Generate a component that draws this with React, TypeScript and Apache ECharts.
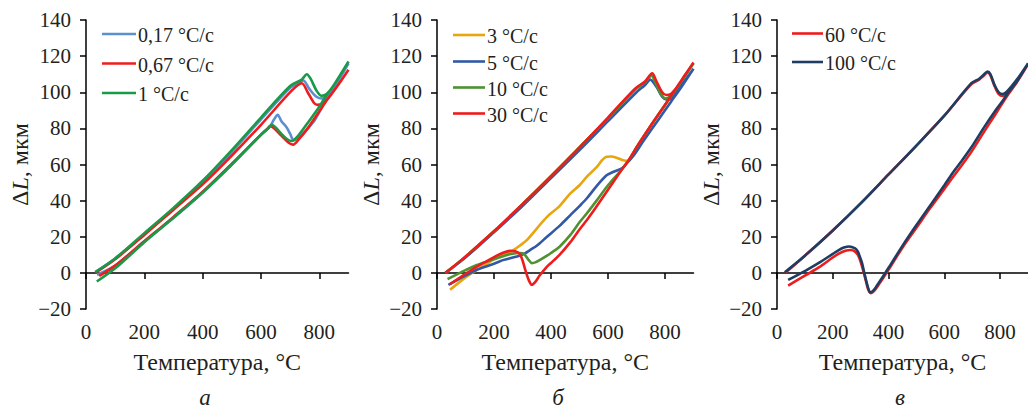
import React, { useEffect, useRef } from "react";
import * as echarts from "echarts";

type P = [number, number];

// ---------- panel а ----------
const aNames = ["0,17 °C/c", "0,67 °C/c", "1 °C/c"];
const aColors = ["#5b8fd0", "#ee1c1c", "#1a9a48"];
const aBlue: P[] = [
  [32, 0.5], [100, 8], [200, 21.5], [300, 35.5], [400, 50.5], [500, 67], [600, 85], [700, 102.5], [725, 104.5],
  [745, 106.5], [765, 102], [790, 97.5], [810, 96.5], [830, 98], [860, 105], [900, 116],
  [860, 105], [830, 98], [800, 89], [780, 83.5], [740, 76.5], [712, 73.5], [700, 77], [688, 80.5], [670, 84],
  [657, 87.5], [645, 85], [630, 81], [600, 76.5], [500, 60], [400, 44.5], [300, 30.5], [200, 17.5], [100, 4], [38, -1],
];
const aRed: P[] = [
  [32, 0], [100, 7.5], [200, 21], [300, 35], [400, 49], [500, 65], [600, 82], [706, 101], [740, 105],
  [760, 100], [780, 94.5], [793, 93], [810, 93.5], [830, 96.5], [860, 103], [900, 112.5],
  [860, 103], [830, 96.5], [800, 89.5], [760, 80], [730, 74], [710, 71], [695, 72], [670, 76], [645, 80],
  [632, 81.4], [620, 79.5], [600, 76.5], [500, 60.5], [400, 45], [300, 31], [200, 17.5], [100, 4], [45, -1.7],
];
const aGreen: P[] = [
  [32, 0.5], [100, 8], [200, 22], [300, 36], [400, 51], [500, 68], [600, 86], [700, 103.5], [740, 107],
  [757, 110], [770, 107.5], [790, 101], [808, 98], [825, 99], [850, 104], [900, 117],
  [850, 104], [825, 98.5], [800, 92], [760, 83], [725, 75.5], [705, 73], [690, 74], [670, 77], [650, 80.5],
  [638, 82], [625, 80], [600, 76.5], [500, 60], [400, 44.5], [300, 30.5], [200, 17], [100, 2.5], [37, -4.8],
];

// ---------- panel б ----------
const bNames = ["3 °C/c", "5 °C/c", "10 °C/c", "30 °C/c"];
const bColors = ["#e8a50c", "#3258a6", "#4e9231", "#ee1c1c"];
const bYellow: P[] = [
  [30, 0], [100, 9], [200, 23], [300, 38], [400, 53.5], [500, 69.5], [600, 85.5], [695, 101.5], [730, 105.5],
  [752, 109], [770, 104], [790, 98], [802, 96.5], [820, 98], [840, 102], [870, 109], [900, 116],
  [870, 109], [840, 102], [800, 93], [750, 81.5], [700, 69.5], [671, 62], [650, 62.5], [630, 63.8], [610, 64.4],
  [595, 64.3], [580, 62.5], [560, 58.5], [526, 53.3], [500, 48.5], [468, 44], [430, 37], [386, 31], [350, 24.5],
  [316, 18.3], [290, 15], [269, 12.7], [240, 10.5], [210, 8.7], [175, 5], [140, 1.7], [100, -2.5], [46, -9.4],
];
const bBlue: P[] = [
  [30, 0], [100, 8.5], [200, 22.5], [300, 37], [400, 52.5], [500, 68], [600, 84], [700, 100], [730, 104],
  [748, 107], [770, 103], [790, 97.5], [805, 96], [825, 97], [860, 104.5], [900, 113],
  [860, 103.5], [820, 94.5], [780, 85.5], [720, 72], [690, 65], [666, 60.7], [650, 58], [620, 56], [595, 54],
  [560, 48], [526, 41.3], [500, 37], [468, 32], [430, 26], [386, 20], [350, 15], [325, 12.5], [310, 10.9],
  [290, 9.5], [260, 8.2], [234, 7.2], [200, 5], [140, 1.7], [100, -1.5], [40, -6.6],
];
const bGreen: P[] = [
  [30, 0], [100, 9], [200, 23], [300, 38], [400, 53.5], [500, 69.5], [600, 85.5], [695, 101.5], [730, 105.5],
  [752, 109.5], [770, 104], [790, 98], [802, 96.5], [820, 98], [840, 102], [870, 109], [900, 116],
  [870, 109], [840, 102], [800, 93], [750, 81.5], [700, 69.5], [671, 62], [650, 57.5], [600, 48.5], [560, 40],
  [526, 33], [500, 28], [468, 21], [430, 14.5], [400, 11], [386, 9.5], [360, 7], [345, 5.8], [333, 5.4],
  [320, 7.5], [305, 10.5], [290, 11], [260, 10.5], [234, 9.4], [200, 7.5], [140, 4.4], [100, 1.5], [37, -3.5],
];
const bRed: P[] = [
  [30, 0], [100, 9], [200, 23], [300, 38], [400, 53.5], [500, 69.5], [600, 86], [695, 102], [730, 106],
  [755, 110.5], [770, 106], [790, 100], [805, 98.5], [820, 99], [840, 102.5], [870, 109.5], [900, 116.5],
  [870, 109.5], [840, 102.5], [800, 93], [750, 81.5], [700, 69.5], [671, 62], [650, 57.5], [600, 46],
  [550, 34.5], [526, 29.3], [500, 24], [468, 17], [430, 10], [400, 5.5], [386, 3.5], [360, -1.5], [345, -5],
  [333, -6.6], [322, -4], [310, 1.5], [300, 7], [290, 10.5], [275, 12], [255, 12.2], [230, 11], [210, 9.5],
  [175, 6.5], [140, 3.5], [100, -0.5], [46, -6.2],
];

// ---------- panel в ----------
const cNames = ["60 °C/c", "100 °C/c"];
const cColors = ["#ee1c1c", "#1f3d63"];
const cRed: P[] = [
  [30, 0], [100, 9.5], [200, 23.5], [300, 38.5], [400, 54.5], [500, 70.5], [600, 87], [697, 104.5], [725, 107],
  [740, 109], [755, 111], [765, 109.5], [780, 103.5], [795, 99], [810, 98], [825, 100], [860, 106.5], [900, 115.5],
  [860, 105.5], [830, 99], [800, 92], [784, 88], [740, 77.5], [697, 67], [660, 59], [633, 53.5], [600, 46.5],
  [550, 36], [500, 25], [452, 14.5], [403, 2.5], [380, -3], [356, -8.5], [345, -10.5], [336, -11.2], [328, -9.5],
  [322, -6.5], [313, -1], [305, 3.5], [297, 7.5], [290, 10], [280, 11.8], [265, 12.7], [245, 12.2], [220, 10.5],
  [200, 8.5], [150, 3], [100, -1.5], [40, -7],
];
const cNavy: P[] = [
  [28, 0.4], [100, 9.5], [200, 23.5], [300, 38.5], [400, 54.5], [500, 70.5], [600, 87], [697, 105], [725, 107.5],
  [740, 109.5], [755, 111.5], [765, 110], [780, 104], [795, 100], [808, 99], [825, 100.5], [860, 107], [900, 116],
  [860, 106], [830, 100], [808, 95], [784, 90], [740, 80], [697, 69.5], [660, 61.5], [633, 56], [600, 48.5],
  [550, 37.5], [500, 26.5], [452, 15.5], [403, 3.5], [380, -2], [356, -7.6], [345, -9.8], [334, -10.9], [328, -9],
  [322, -5.7], [313, 0], [305, 5.4], [297, 9], [290, 11.8], [280, 13.5], [259, 14.6], [240, 14], [220, 12.5],
  [200, 10.5], [150, 5.5], [100, 1], [40, -3.9],
];

const xTicks = [0, 200, 400, 600, 800];
const yTicks = [-20, 0, 20, 40, 60, 80, 100, 120, 140];
const panelLetters = ["а", "б", "в"];
const xTitle = "Температура, °C";

const FONT = "Liberation Serif";
const TXT = "#231f20";

export default function App() {
  const ref = useRef<HTMLDivElement>(null);
  useEffect(() => {
    if (!ref.current) return;
    const chart = echarts.init(ref.current, undefined, { renderer: "svg" });

    const grids = [
      { left: 86, top: 20, width: 262.5, height: 289 },
      { left: 437, top: 20, width: 256.5, height: 289 },
      { left: 777, top: 20, width: 259.5, height: 289 },
    ];

    const xAxes = grids.map((_, i) => ({
      type: "value",
      gridIndex: i,
      min: 0,
      max: 900,
      interval: 100,
      axisLine: { show: true, lineStyle: { color: "#000", width: 1.5 } },
      axisTick: { show: true, inside: false, length: 6, customValues: xTicks, lineStyle: { color: "#000", width: 1.5 } },
      axisLabel: { show: false },
      splitLine: { show: false },
    }));

    const yAxes = grids.map((_, i) => ({
      type: "value",
      gridIndex: i,
      min: -20,
      max: 140,
      interval: 20,
      axisLine: { show: true, lineStyle: { color: "#000", width: 1.5 } },
      axisTick: { show: true, inside: false, length: 6, lineStyle: { color: "#000", width: 1.5 } },
      axisLabel: { show: false },
      splitLine: { show: false },
    }));

    const mk = (name: string, color: string, data: P[], idx: number) => ({
      type: "line",
      name,
      xAxisIndex: idx,
      yAxisIndex: idx,
      data,
      symbol: "none",
      smooth: 0.3,
      lineStyle: { width: 2.6, color },
      itemStyle: { color },
    });

    const series = [
      mk(aNames[0], aColors[0], aBlue, 0),
      mk(aNames[1], aColors[1], aRed, 0),
      mk(aNames[2], aColors[2], aGreen, 0),
      mk(bNames[0], bColors[0], bYellow, 1),
      mk(bNames[1], bColors[1], bBlue, 1),
      mk(bNames[2], bColors[2], bGreen, 1),
      mk(bNames[3], bColors[3], bRed, 1),
      mk(cNames[0], cColors[0], cRed, 2),
      mk(cNames[1], cColors[1], cNavy, 2),
    ];

    chart.setOption({
      animation: false,
      backgroundColor: "#fff",
      grid: grids,
      xAxis: xAxes,
      yAxis: yAxes,
      series,
    } as any);

    const txt = (text: string, x: number, y: number, size: number, align: string, valign: string) => ({
      type: "text",
      x,
      y,
      silent: true,
      style: {
        text,
        fontFamily: FONT,
        fontSize: size,
        fill: TXT,
        textAlign: align,
        textVerticalAlign: valign,
      },
    });

    const graphic: any[] = [];
    grids.forEach((g, i) => {
      yTicks.forEach((v) => {
        const p = chart.convertToPixel({ gridIndex: i } as any, [0, v]) as number[];
        graphic.push(txt(v < 0 ? "−" + Math.abs(v) : String(v), p[0] - 15, p[1], 21, "right", "middle"));
      });
      xTicks.forEach((v) => {
        const p = chart.convertToPixel({ gridIndex: i } as any, [v, -20]) as number[];
        graphic.push(txt(String(v), p[0], p[1] + 12, 21, "center", "top"));
      });
      const pc = chart.convertToPixel({ gridIndex: i } as any, [450, -20]) as number[];
      graphic.push(txt(xTitle, pc[0], 362, 24, "center", "middle"));
      const pm = chart.convertToPixel({ gridIndex: i } as any, [0, 60]) as number[];
      graphic.push({
        type: "text",
        x: pm[0] - 66,
        y: pm[1],
        rotation: Math.PI / 2,
        silent: true,
        style: {
          text: "{d|Δ}{l|L}{d|, мкм}",
          fontFamily: FONT,
          fontSize: 24,
          fill: TXT,
          textAlign: "center",
          textVerticalAlign: "middle",
          rich: {
            d: { fontFamily: FONT, fontSize: 24, fill: TXT },
            l: { fontFamily: FONT, fontSize: 24, fill: TXT, fontStyle: "italic" },
          },
        },
      });
    });

    const legendSets = [
      { names: aNames, colors: aColors, x0: 102, x1: 136, ys: [34, 63.5, 93] },
      { names: bNames, colors: bColors, x0: 453, x1: 485, ys: [35, 61.5, 87.5, 113.5] },
      { names: cNames, colors: cColors, x0: 792, x1: 823, ys: [33.5, 62] },
    ];
    legendSets.forEach((L) => {
      L.names.forEach((n, k) => {
        graphic.push({
          type: "line",
          silent: true,
          shape: { x1: L.x0, y1: L.ys[k], x2: L.x1, y2: L.ys[k] },
          style: { stroke: L.colors[k], lineWidth: 2.6 },
        });
        graphic.push(txt(n, L.x1 + 2, L.ys[k] + 1, 20, "left", "middle"));
      });
    });

    const letterX = [205, 558, 900];
    panelLetters.forEach((t, i) => {
      graphic.push({
        type: "text",
        x: letterX[i],
        y: 397,
        silent: true,
        style: {
          text: t,
          fontFamily: FONT,
          fontSize: 23,
          fontStyle: "italic",
          fill: TXT,
          textAlign: "center",
          textVerticalAlign: "middle",
        },
      });
    });

    chart.setOption({ graphic } as any);

    return () => chart.dispose();
  }, []);

  return (
    <div
      ref={ref}
      style={{ position: "absolute", left: 0, top: 0, width: 1028, height: 410, overflow: "hidden" }}
    />
  );
}
